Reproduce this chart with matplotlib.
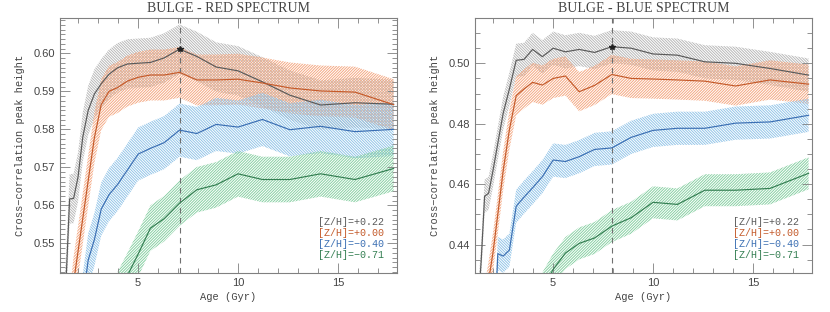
import numpy as np
import matplotlib
matplotlib.use("Agg")
import matplotlib.pyplot as plt
from matplotlib.ticker import MultipleLocator

# MILES-like age grid (Gyr)
age = [1.00, 1.12, 1.26, 1.41, 1.58, 1.78, 2.00, 2.24, 2.51, 2.82, 3.16, 3.55, 3.98,
       4.47, 5.01, 5.62, 6.31, 7.08, 7.94, 8.91, 10.00, 11.22, 12.59, 14.13, 15.85, 17.78]

# red spectrum
red_p022 = [0.505, 0.518, 0.530, 0.541, 0.5617, 0.5618, 0.5674, 0.5780, 0.5850, 0.5893,
            0.5920, 0.5945, 0.5962, 0.5972, 0.5974, 0.5976, 0.5988, 0.6011, 0.5992, 0.5964,
            0.5954, 0.5925, 0.5890, 0.5864, 0.5870, 0.5866]
red_p000 = [0.490, 0.500, 0.510, 0.520, 0.530, 0.5398, 0.5478, 0.5566, 0.5665, 0.5778,
            0.5865, 0.5900, 0.5910, 0.5927, 0.5937, 0.5943, 0.5943, 0.5950, 0.5930, 0.5930,
            0.5932, 0.5922, 0.5909, 0.5901, 0.5898, 0.5865]
red_m040 = [0.480, 0.490, 0.500, 0.505, 0.510, 0.515, 0.522, 0.535, 0.5456, 0.5510,
            0.5590, 0.5628, 0.5655, 0.5693, 0.5735, 0.5750, 0.5765, 0.5798, 0.5789, 0.5813,
            0.5806, 0.5826, 0.5799, 0.5808, 0.5794, 0.5800]
red_m071 = [0.470, 0.475, 0.480, 0.485, 0.490, 0.495, 0.500, 0.510, 0.518, 0.524,
            0.528, 0.531, 0.5365, 0.5415, 0.5472, 0.5540, 0.5565, 0.5606, 0.5641, 0.5654,
            0.5683, 0.5668, 0.5668, 0.5683, 0.5668, 0.5697]

# blue spectrum
blue_p022 = [0.400, 0.410, 0.420, 0.4347, 0.4560, 0.4570, 0.4645, 0.4735, 0.4835, 0.4915,
             0.5010, 0.5013, 0.5046, 0.5022, 0.5050, 0.5038, 0.5046, 0.5036, 0.5055, 0.5050,
             0.5031, 0.5027, 0.5005, 0.5000, 0.4983, 0.4961]
blue_p000 = [0.390, 0.400, 0.410, 0.415, 0.420, 0.428, 0.4374, 0.4500, 0.4645, 0.4780,
             0.4893, 0.4915, 0.4937, 0.4928, 0.4950, 0.4958, 0.4906, 0.4927, 0.4963, 0.4950,
             0.4948, 0.4945, 0.4941, 0.4925, 0.4945, 0.4931]
blue_m040 = [0.370, 0.375, 0.380, 0.385, 0.390, 0.395, 0.400, 0.4370, 0.4362, 0.4382,
             0.4527, 0.4557, 0.4588, 0.4625, 0.4680, 0.4675, 0.4691, 0.4715, 0.4720, 0.4755,
             0.4778, 0.4785, 0.4785, 0.4802, 0.4806, 0.4828]
blue_m071 = [0.350, 0.355, 0.360, 0.365, 0.370, 0.375, 0.380, 0.390, 0.397, 0.403,
             0.408, 0.413, 0.418, 0.4255, 0.4318, 0.4372, 0.4404, 0.4422, 0.4461, 0.4489,
             0.4540, 0.4533, 0.4580, 0.4580, 0.4586, 0.4636]

# half widths of the shaded bands
red_err = [0.0065, 0.0067, 0.0070, 0.0060]
blue_err = [0.0055, 0.0065, 0.0055, 0.0053]

labels = ["[Z/H]=+0.22", "[Z/H]=+0.00", "[Z/H]=\u22120.40", "[Z/H]=\u22120.71"]
line_colors = ["#5a5a5a", "#c45a2a", "#3b6fb3", "#347f52"]
band_colors = ["#b8b8b8", "#f4a882", "#92c4e8", "#88d0a3"]
hatches = ["\\" * 12, "/" * 12, "\\" * 12, "/" * 12]

plt.rcParams["hatch.linewidth"] = 0.7

fig = plt.figure(figsize=(8.3, 3.12), dpi=100)
ax1 = fig.add_axes([60 / 830, 1 - 273 / 312, 337 / 830, 255 / 312])
ax2 = fig.add_axes([475 / 830, 1 - 273 / 312, 337 / 830, 255 / 312])

panels = [
    (ax1, [red_p022, red_p000, red_m040, red_m071], red_err, "BULGE - RED SPECTRUM",
     (0.5422, 0.6093), 0.01, 0.00125, 7.08),
    (ax2, [blue_p022, blue_p000, blue_m040, blue_m071], blue_err, "BULGE - BLUE SPECTRUM",
     (0.4306, 0.515), 0.02, 0.005, 7.94),
]

frame = "#808080"
txt = "#444444"

for ax, series, errs, title, ylim, ymaj, ymin, vline in panels:
    for vals, err, lc, bc, h in zip(series, errs, line_colors, band_colors, hatches):
        v = np.array(vals)
        ax.fill_between(age, v - err, v + err, facecolor="none", edgecolor=bc,
                        linewidth=0, hatch=h, zorder=1)
    for vals, lc in zip(series, line_colors):
        ax.plot(age, vals, color=lc, lw=0.85, zorder=3)
    ax.axvline(vline, color="#707070", lw=0.8, ls=(0, (5, 4)), zorder=2)
    top = series[0]
    i = int(np.argmax(top))
    ax.plot(age[i], top[i], marker="*", color="#222222", ms=4, zorder=4)

    ax.set_xlim(1.1, 17.95)
    ax.set_ylim(*ylim)
    ax.xaxis.set_major_locator(MultipleLocator(5))
    ax.xaxis.set_minor_locator(MultipleLocator(1))
    ax.yaxis.set_major_locator(MultipleLocator(ymaj))
    ax.yaxis.set_minor_locator(MultipleLocator(ymin))
    ax.yaxis.set_major_formatter(plt.FormatStrFormatter("%.2f"))
    ax.tick_params(which="both", direction="in", top=True, right=True,
                   color=frame, labelcolor=txt, labelsize=8, width=0.6)
    ax.tick_params(which="major", length=7)
    ax.tick_params(which="minor", length=3.5)
    for lab in ax.get_xticklabels() + ax.get_yticklabels():
        lab.set_family("Liberation Sans")
    for s in ax.spines.values():
        s.set_color(frame)
        s.set_linewidth(0.8)

    ax.set_title(title, fontsize=10, color=txt, family="Liberation Serif", pad=4)
    ax.set_xlabel("Age (Gyr)", fontsize=7.5, color=txt, family="Liberation Mono", labelpad=3)
    ax.set_ylabel("Cross\u2212correlation peak height", fontsize=7.5, color=txt,
                  family="Liberation Mono", labelpad=6)

    for k, (lab, lc) in enumerate(zip(labels, line_colors)):
        ax.text(0.765, 0.200 - k * 0.043, lab, transform=ax.transAxes, color=lc,
                fontsize=7.2, family="Liberation Mono", va="center", ha="left")

fig.savefig("out.png", dpi=100)
